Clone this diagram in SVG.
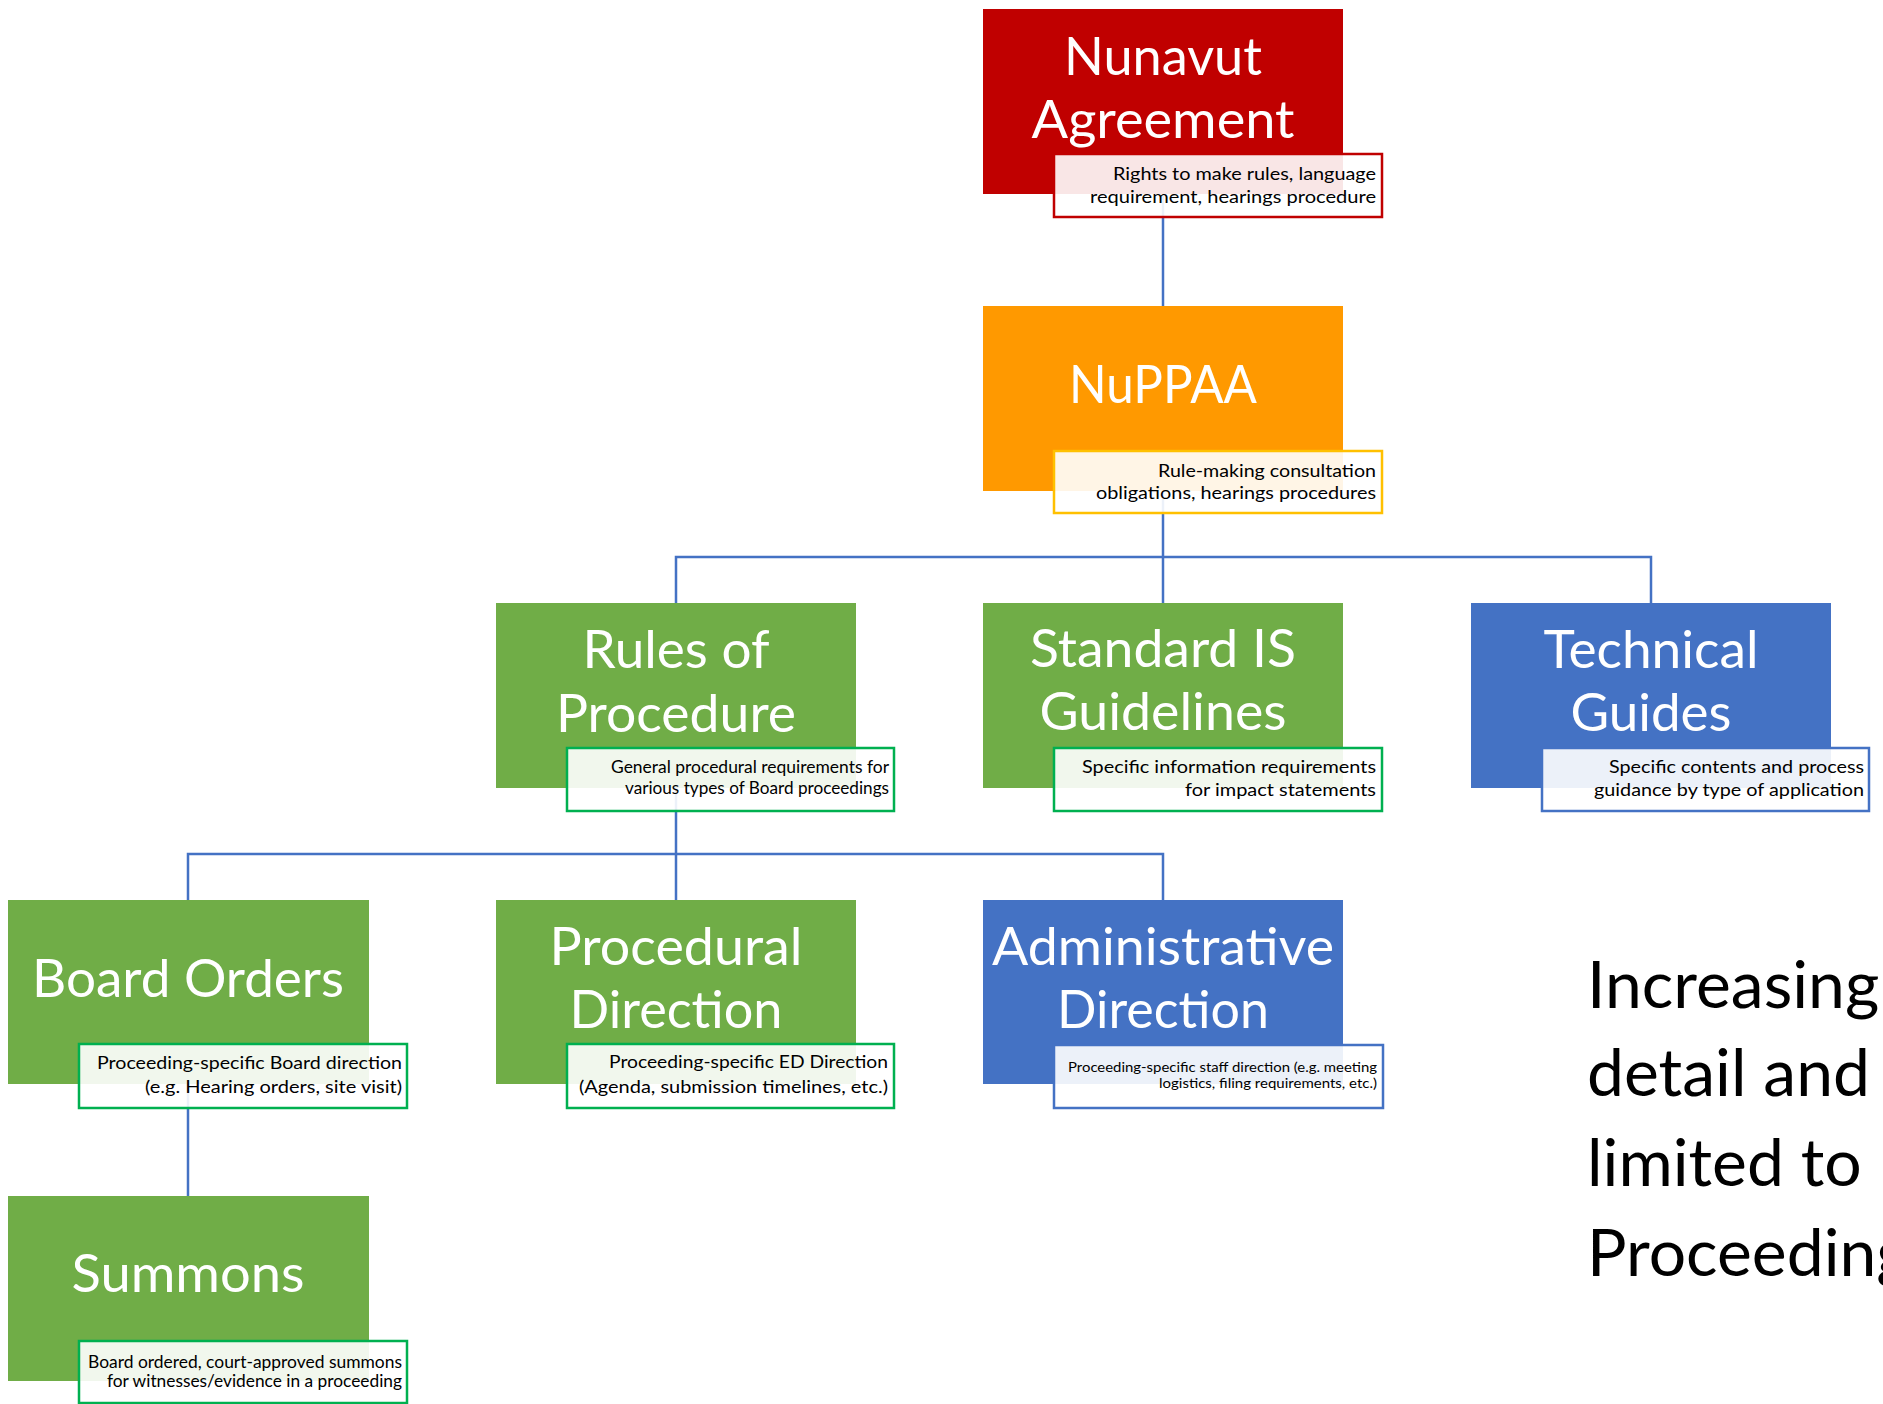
<svg xmlns="http://www.w3.org/2000/svg" width="1883" height="1404" viewBox="0 0 1883 1404">
<style>
.bg{fill:#ffffff}
.conn{stroke:#4472c4;stroke-width:2.5;fill:none}
.red{fill:#c00000}
.orange{fill:#ff9900}
.green{fill:#70ad47}
.blue{fill:#4472c4}
.ann{fill:#ffffff;fill-opacity:0.9;stroke-width:2.5}
.ann-red{stroke:#c00000}
.ann-gold{stroke:#ffc000}
.ann-green{stroke:#00b050}
.ann-blue{stroke:#4472c4}
.title{font-family:Lato,"Open Sans",sans-serif;font-size:52px;fill:#ffffff;text-anchor:middle}
.note{font-family:Lato,"Open Sans",sans-serif;font-size:17px;fill:#000000;text-anchor:end}
.note-s{font-family:Lato,"Open Sans",sans-serif;font-size:13px;fill:#000000;text-anchor:end}
.side{font-family:Lato,"Open Sans",sans-serif;font-size:66px;fill:#000000}
</style>
<rect class="bg" x="0" y="0" width="1883" height="1404"/>
<g id="connectors">
<line class="conn" x1="1163" y1="194" x2="1163" y2="306"/>
<polyline class="conn" points="1163,491 1163,557"/>
<polyline class="conn" points="676,603 676,557 1651,557 1651,603"/>
<line class="conn" x1="1163" y1="557" x2="1163" y2="603"/>
<polyline class="conn" points="676,788 676,854"/>
<polyline class="conn" points="188,900 188,854 1163,854 1163,900"/>
<line class="conn" x1="676" y1="854" x2="676" y2="900"/>
<line class="conn" x1="188" y1="1084" x2="188" y2="1196"/>
</g>
<g id="nunavut-agreement">
<rect class="red" x="983" y="9" width="360" height="185"/>
<text class="title" x="1163" y="75" textLength="198" lengthAdjust="spacingAndGlyphs">Nunavut</text>
<text class="title" x="1163" y="138" textLength="263" lengthAdjust="spacingAndGlyphs">Agreement</text>
<rect class="ann ann-red" x="1054" y="154" width="328" height="63"/>
<text class="note" x="1376" y="180" textLength="263" lengthAdjust="spacingAndGlyphs">Rights to make rules, language</text>
<text class="note" x="1376" y="203" textLength="286" lengthAdjust="spacingAndGlyphs">requirement, hearings procedure</text>
</g>
<g id="nuppaa">
<rect class="orange" x="983" y="306" width="360" height="185"/>
<text class="title" x="1163" y="403" textLength="188" lengthAdjust="spacingAndGlyphs">NuPPAA</text>
<rect class="ann ann-gold" x="1054" y="451" width="328" height="62"/>
<text class="note" x="1376" y="477" textLength="218" lengthAdjust="spacingAndGlyphs">Rule-making consultation</text>
<text class="note" x="1376" y="499" textLength="280" lengthAdjust="spacingAndGlyphs">obligations, hearings procedures</text>
</g>
<g id="rules-of-procedure">
<rect class="green" x="496" y="603" width="360" height="185"/>
<text class="title" x="676" y="668" textLength="187" lengthAdjust="spacingAndGlyphs">Rules of</text>
<text class="title" x="676" y="732" textLength="240" lengthAdjust="spacingAndGlyphs">Procedure</text>
<rect class="ann ann-green" x="567" y="748" width="327" height="63"/>
<text class="note" x="889" y="773" textLength="278" lengthAdjust="spacingAndGlyphs">General procedural requirements for</text>
<text class="note" x="889" y="794" textLength="264" lengthAdjust="spacingAndGlyphs">various types of Board proceedings</text>
</g>
<g id="standard-is-guidelines">
<rect class="green" x="983" y="603" width="360" height="185"/>
<text class="title" x="1163" y="667" textLength="266" lengthAdjust="spacingAndGlyphs">Standard IS</text>
<text class="title" x="1163" y="730" textLength="247" lengthAdjust="spacingAndGlyphs">Guidelines</text>
<rect class="ann ann-green" x="1054" y="748" width="328" height="63"/>
<text class="note" x="1376" y="773" textLength="294" lengthAdjust="spacingAndGlyphs">Specific information requirements</text>
<text class="note" x="1376" y="796" textLength="191" lengthAdjust="spacingAndGlyphs">for impact statements</text>
</g>
<g id="technical-guides">
<rect class="blue" x="1471" y="603" width="360" height="185"/>
<text class="title" x="1651" y="668" textLength="215" lengthAdjust="spacingAndGlyphs">Technical</text>
<text class="title" x="1651" y="731" textLength="161" lengthAdjust="spacingAndGlyphs">Guides</text>
<rect class="ann ann-blue" x="1542" y="748" width="327" height="63"/>
<text class="note" x="1864" y="773" textLength="255" lengthAdjust="spacingAndGlyphs">Specific contents and process</text>
<text class="note" x="1864" y="796" textLength="270" lengthAdjust="spacingAndGlyphs">guidance by type of application</text>
</g>
<g id="board-orders">
<rect class="green" x="8" y="900" width="361" height="184"/>
<text class="title" x="188" y="997" textLength="312" lengthAdjust="spacingAndGlyphs">Board Orders</text>
<rect class="ann ann-green" x="79" y="1044" width="328" height="64"/>
<text class="note" x="402" y="1069" textLength="305" lengthAdjust="spacingAndGlyphs">Proceeding-specific Board direction</text>
<text class="note" x="402" y="1093" textLength="257" lengthAdjust="spacingAndGlyphs">(e.g. Hearing orders, site visit)</text>
</g>
<g id="procedural-direction">
<rect class="green" x="496" y="900" width="360" height="184"/>
<text class="title" x="676" y="965" textLength="253" lengthAdjust="spacingAndGlyphs">Procedural</text>
<text class="title" x="676" y="1028" textLength="213" lengthAdjust="spacingAndGlyphs">Direction</text>
<rect class="ann ann-green" x="567" y="1044" width="327" height="64"/>
<text class="note" x="888" y="1068" textLength="279" lengthAdjust="spacingAndGlyphs">Proceeding-specific ED Direction</text>
<text class="note" x="888" y="1093" textLength="309" lengthAdjust="spacingAndGlyphs">(Agenda, submission timelines, etc.)</text>
</g>
<g id="administrative-direction">
<rect class="blue" x="983" y="900" width="360" height="184"/>
<text class="title" x="1163" y="965" textLength="342" lengthAdjust="spacingAndGlyphs">Administrative</text>
<text class="title" x="1163" y="1028" textLength="212" lengthAdjust="spacingAndGlyphs">Direction</text>
<rect class="ann ann-blue" x="1054" y="1045" width="329" height="63"/>
<text class="note-s" x="1377" y="1072" textLength="309" lengthAdjust="spacingAndGlyphs">Proceeding-specific staff direction (e.g. meeting</text>
<text class="note-s" x="1377" y="1088" textLength="218" lengthAdjust="spacingAndGlyphs">logistics, filing requirements, etc.)</text>
</g>
<g id="summons">
<rect class="green" x="8" y="1196" width="361" height="185"/>
<text class="title" x="188" y="1292" textLength="233" lengthAdjust="spacingAndGlyphs">Summons</text>
<rect class="ann ann-green" x="79" y="1341" width="328" height="62"/>
<text class="note" x="402" y="1368" textLength="314" lengthAdjust="spacingAndGlyphs">Board ordered, court-approved summons</text>
<text class="note" x="402" y="1387" textLength="295" lengthAdjust="spacingAndGlyphs">for witnesses/evidence in a proceeding</text>
</g>
<g id="side-note">
<text class="side" x="1587" y="1008">Increasing</text>
<text class="side" x="1587" y="1096">detail and</text>
<text class="side" x="1587" y="1186">limited to</text>
<text class="side" x="1587" y="1276">Proceeding</text>
</g>
</svg>
